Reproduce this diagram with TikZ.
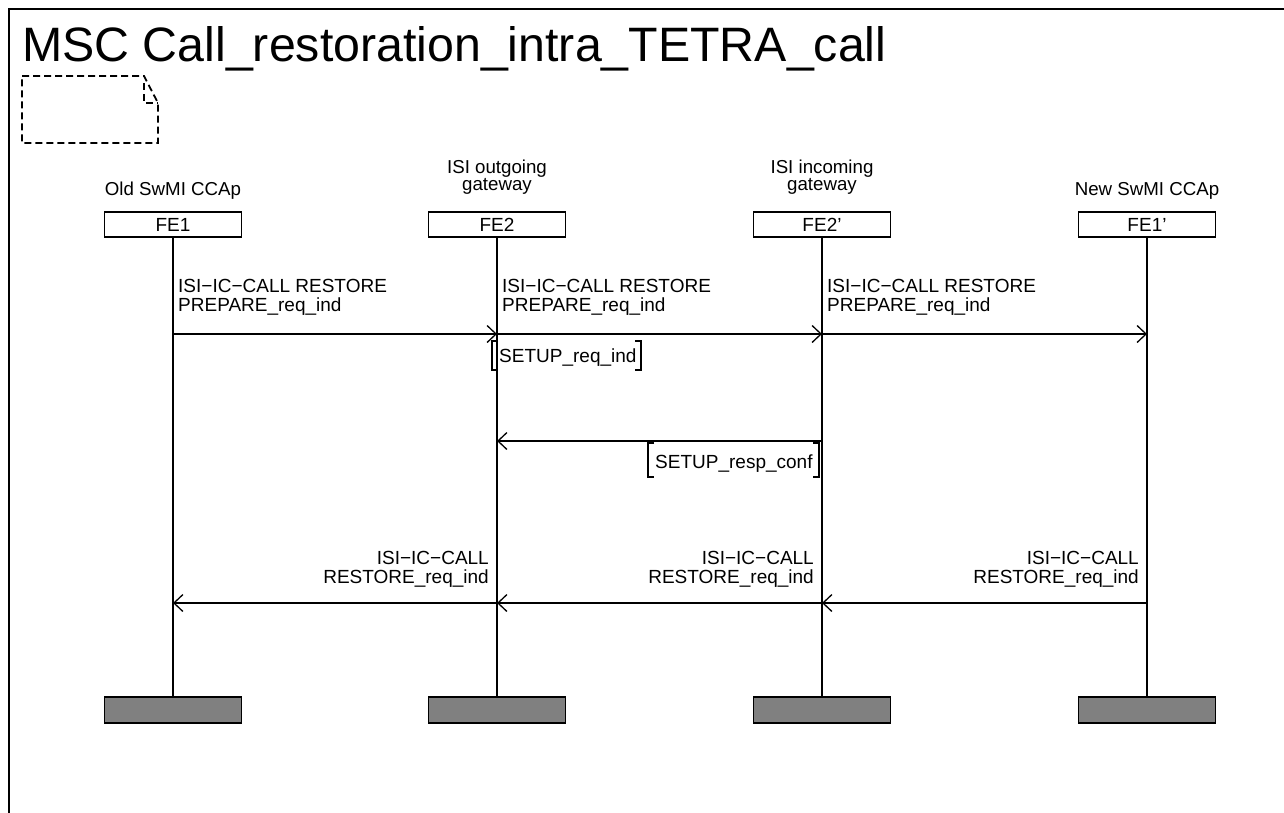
\documentclass[tikz,border=0pt]{standalone}
\usepackage{fontspec}
\setmainfont{Liberation Sans}
\usetikzlibrary{arrows.meta}
\begin{document}
\begin{tikzpicture}[x=1pt,y=-1pt,
  headbox/.style={draw,line width=1.6pt,minimum width=137pt,minimum height=25pt,inner sep=0pt,font=\fontsize{19}{19}\selectfont},
  endbox/.style={draw,line width=1.6pt,fill={rgb,255:red,128;green,128;blue,128},minimum width=137pt,minimum height=26pt,inner sep=0pt},
  lifeline/.style={line width=1.8pt},
  msg/.style={line width=1.3pt,-{Straight Barb[length=9pt,width=17pt,line width=1.3pt]}},
  lbl/.style={inner sep=0pt,font=\fontsize{19}{19}\selectfont},
  hdr/.style={inner sep=0pt,align=center,font=\fontsize{18.7}{15}\selectfont},
  brk/.style={line width=1.3pt}
]
\useasboundingbox (0,0) rectangle (1284,812);
% frame
\draw[line width=2pt] (9,830) -- (9,9) -- (1300,9);
\node[anchor=base west,inner sep=0pt,font=\fontsize{48.3}{50}\selectfont] (title) at (22,61) {MSC Call\_restoration\_intra\_TETRA\_call};
% comment symbol
\draw[line width=1.8pt,dash pattern=on 7pt off 4pt] (22,76) -- (144,76) -- (158,103) -- (158,143) -- (22,143) -- cycle;
\draw[line width=1.8pt,dash pattern=on 7pt off 4pt] (144,83) -- (144,103) -- (158,103);
% headers
\node[hdr,anchor=base] (t1) at (173,195) {Old SwMI CCAp};
\node[hdr,anchor=base] (t2) at (497,190) {ISI outgoing\\gateway};
\node[hdr,anchor=base] (t3) at (822,190) {ISI incoming\\gateway};
\node[hdr,anchor=base] (t4) at (1147,195) {New SwMI CCAp};
% head boxes
\node[headbox] (h1) at (173,224.5) {FE1};
\node[headbox] (h2) at (497,224.5) {FE2};
\node[headbox] (h3) at (822,224.5) {FE2’};
\node[headbox] (h4) at (1147,224.5) {FE1’};
% end boxes
\node[endbox] (e1) at (173,710) {};
\node[endbox] (e2) at (497,710) {};
\node[endbox] (e3) at (822,710) {};
\node[endbox] (e4) at (1147,710) {};
% lifelines
\foreach \i in {1,2,3,4} \draw[lifeline] (h\i.south) -- (e\i.north);
% message coordinates
\foreach \i/\x in {1/173,2/497,3/822,4/1147} {
  \coordinate (a\i) at (\x,334);
  \coordinate (b\i) at (\x,441);
  \coordinate (c\i) at (\x,603);
}
% prepare messages
\draw[msg] (a1) -- (a2);
\draw[msg] (a2) -- (a3);
\draw[msg] (a3) -- (a4);
\node[lbl,anchor=base west,align=left] (l1) at (178,311) {ISI−IC−CALL RESTORE\\PREPARE\_req\_ind};
\node[lbl,anchor=base west,align=left] (l2) at (502,311) {ISI−IC−CALL RESTORE\\PREPARE\_req\_ind};
\node[lbl,anchor=base west,align=left] (l3) at (827,311) {ISI−IC−CALL RESTORE\\PREPARE\_req\_ind};
% SETUP_req_ind
\draw[brk] (498,341) -- (492,341) -- (492,370) -- (498,370);
\draw[brk] (635,341) -- (641,341) -- (641,370) -- (635,370);
\node[lbl,anchor=base west] (s1) at (499,362) {SETUP\_req\_ind};
% setup resp
\draw[msg] (b3) -- (b2);
\draw[brk] (654,443) -- (648,443) -- (648,477) -- (654,477);
\draw[brk] (813,443) -- (819,443) -- (819,477) -- (813,477);
\node[lbl,anchor=base west] (s2) at (655,468) {SETUP\_resp\_conf};
% restore messages
\draw[msg] (c4) -- (c3);
\draw[msg] (c3) -- (c2);
\draw[msg] (c2) -- (c1);
\node[lbl,anchor=base east,align=right] (r1) at (489,583) {ISI−IC−CALL\\RESTORE\_req\_ind};
\node[lbl,anchor=base east,align=right] (r2) at (814,583) {ISI−IC−CALL\\RESTORE\_req\_ind};
\node[lbl,anchor=base east,align=right] (r3) at (1139,583) {ISI−IC−CALL\\RESTORE\_req\_ind};
\end{tikzpicture}
\end{document}
